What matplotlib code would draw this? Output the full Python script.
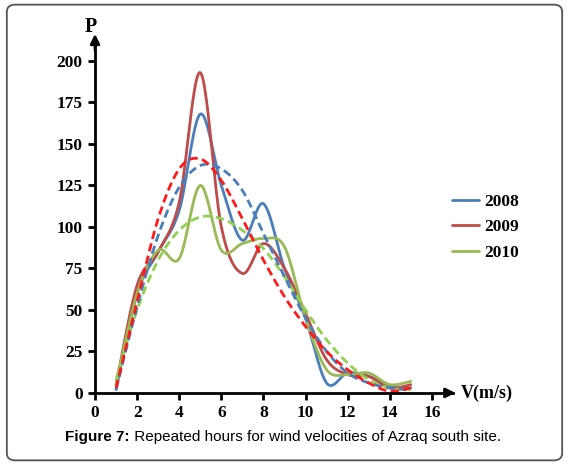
import numpy as np
import matplotlib
matplotlib.use("Agg")
import matplotlib.pyplot as plt
from matplotlib.patches import FancyBboxPatch

# ---- data ----
v = [1, 2, 3, 4, 5, 6, 7, 8, 9, 10, 11, 12, 13, 14, 15]
p2008 = [2, 60, 85, 110, 168, 125, 92, 114, 75, 45, 6, 12, 10, 4, 3]
p2009 = [5, 65, 85, 115, 193, 100, 72, 90, 75, 48, 20, 11, 10, 3, 5]
p2010 = [5, 60, 86, 81, 125, 86, 90, 93, 88, 45, 14, 11, 12, 5, 7]
fit2008 = [2, 52, 95, 124, 137, 135, 122, 96, 70, 45, 25, 12, 6, 3, 2]
fit2009 = [3, 55, 105, 135, 141, 128, 105, 80, 58, 40, 25, 14, 6, 1, 3]
fit2010 = [8, 50, 80, 98, 106, 105, 98, 87, 70, 50, 32, 18, 8, 3, 2]
years = ["2008", "2009", "2010"]
xticks = [0, 2, 4, 6, 8, 10, 12, 14, 16]
yticks = [0, 25, 50, 75, 100, 125, 150, 175, 200]


def smooth(x, y, n=30):
    x = np.asarray(x, float)
    y = np.asarray(y, float)
    P = np.column_stack([x, y])
    ext = np.vstack([P[0], P, P[-1]])
    out = []
    for i in range(len(P) - 1):
        p0, p1, p2, p3 = ext[i], ext[i + 1], ext[i + 2], ext[i + 3]
        c1 = p1 + (p2 - p0) / 6.0
        c2 = p2 - (p3 - p1) / 6.0
        t = np.linspace(0, 1, n)[:, None]
        seg = ((1 - t) ** 3) * p1 + 3 * ((1 - t) ** 2) * t * c1 + 3 * (1 - t) * t ** 2 * c2 + t ** 3 * p2
        out.append(seg if i == 0 else seg[1:])
    a = np.vstack(out)
    return a[:, 0], a[:, 1]


serif = "Liberation Serif"
fig = plt.figure(figsize=(5.69, 4.65), dpi=100)

border = FancyBboxPatch((0.012, 0.01), 0.976, 0.98, boxstyle="round,pad=0,rounding_size=0.015",
                        transform=fig.transFigure, fill=False, edgecolor="#555555", linewidth=1.3)
fig.patches.append(border)

ax = fig.add_axes([0.167, 0.155, 0.629, 0.7495])
ax.set_xlim(0, 17)
ax.set_ylim(0, 210)

solid_cols = ["#4a7ebb", "#be4b48", "#98b954"]
dash_cols = ["#4a7ebb", "#ff1a1a", "#92d050"]
lw = 2.0
for vals, c, lab in zip([p2008, p2009, p2010], solid_cols, years):
    xs, ys = smooth(v, vals)
    ax.plot(xs, ys, color=c, lw=lw, label=lab, solid_capstyle="round")
for vals, c in zip([fit2010, fit2008, fit2009], [dash_cols[2], dash_cols[0], dash_cols[1]]):
    xs, ys = smooth(v, vals)
    ax.plot(xs, ys, color=c, lw=lw, ls=(0, (3, 1.6)))

for s in ["top", "right"]:
    ax.spines[s].set_visible(False)
for s in ["left", "bottom"]:
    ax.spines[s].set_linewidth(2.0)
    ax.spines[s].set_color("black")

ax.set_xticks(xticks)
ax.set_yticks(yticks)
ax.tick_params(direction="out", length=5, width=2, pad=4)
for lbl in ax.get_xticklabels() + ax.get_yticklabels():
    lbl.set_fontfamily(serif)
    lbl.set_fontweight("bold")
    lbl.set_fontsize(12.5)

# arrows
ax.annotate("", xy=(17.25, 0), xytext=(16.6, 0), xycoords="data",
            arrowprops=dict(arrowstyle="-|>", color="black", lw=2, mutation_scale=14),
            annotation_clip=False)
ax.annotate("", xy=(0, 218), xytext=(0, 205), xycoords="data",
            arrowprops=dict(arrowstyle="-|>", color="black", lw=2, mutation_scale=14),
            annotation_clip=False)

fig.text(91 / 569, 1 - 27 / 465, "P", fontfamily=serif, fontweight="bold", fontsize=14.5,
         ha="center", va="center")
fig.text(461 / 569, 1 - 393 / 465, "V(m/s)", fontfamily=serif, fontweight="bold", fontsize=13,
         ha="left", va="center")

leg = ax.legend(loc="upper left", bbox_to_anchor=(436 / 569, 1 - 178 / 465),
                bbox_transform=fig.transFigure, frameon=False, handlelength=1.6,
                handletextpad=0.3, labelspacing=0.55,
                prop=dict(family=serif, weight="bold", size=12.5))

fig.canvas.draw()
renderer = fig.canvas.get_renderer()
t1 = fig.text(65 / 569, 1 - 437 / 465, "Figure 7:", fontsize=11, fontweight="bold",
              ha="left", va="center", fontfamily="Liberation Sans")
bb = t1.get_window_extent(renderer=renderer)
x_end = bb.x1 / fig.bbox.width
fig.text(x_end, 1 - 437 / 465, " Repeated hours for wind velocities of Azraq south site.",
         fontsize=11, ha="left", va="center", fontfamily="Liberation Sans")

fig.savefig("out.png", dpi=100)
